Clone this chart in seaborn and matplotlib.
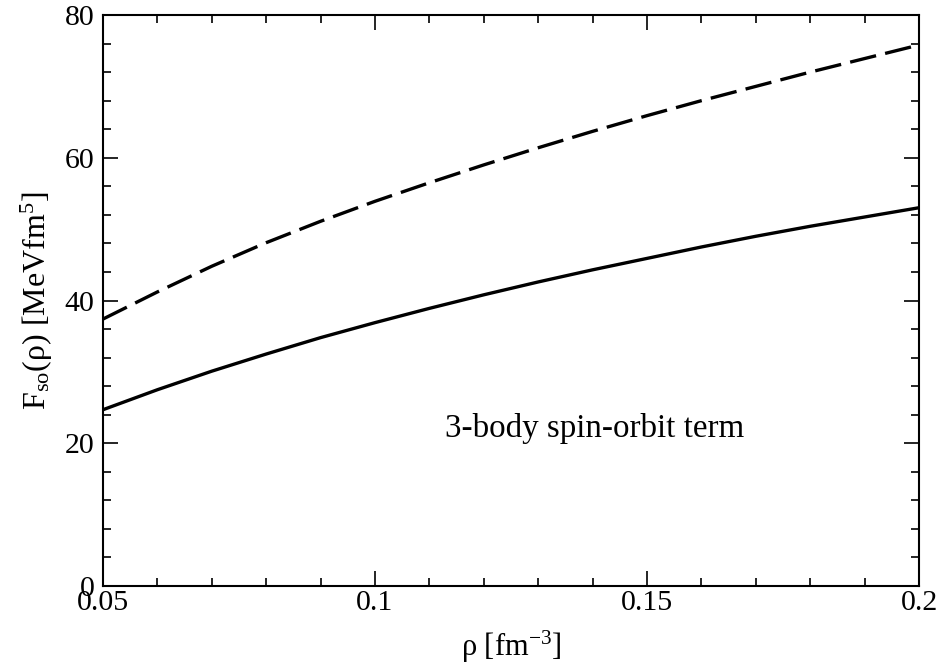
import pandas as pd
import matplotlib.pyplot as plt
from matplotlib.ticker import MultipleLocator
import seaborn as sns

# density values and the two curves
rho = [0.05, 0.06, 0.07, 0.08, 0.09, 0.10, 0.11, 0.12,
       0.13, 0.14, 0.15, 0.16, 0.17, 0.18, 0.19, 0.20]
f_solid = [24.7, 27.5, 30.1, 32.5, 34.8, 36.9, 38.9, 40.8,
           42.6, 44.3, 45.9, 47.5, 49.0, 50.4, 51.7, 53.0]
f_dashed = [37.4, 41.2, 44.8, 48.1, 51.1, 53.9, 56.5, 59.0,
            61.4, 63.7, 65.9, 68.0, 70.0, 72.0, 73.9, 75.8]

df = pd.DataFrame({'rho': rho + rho,
                   'F': f_solid + f_dashed,
                   'curve': ['solid'] * len(rho) + ['dashed'] * len(rho)})

sns.set_style('ticks')
plt.rcParams['font.family'] = ['Liberation Serif', 'DejaVu Serif']
plt.rcParams['mathtext.fontset'] = 'custom'
plt.rcParams['mathtext.rm'] = 'Liberation Serif'
plt.rcParams['mathtext.it'] = 'Liberation Serif:italic'
plt.rcParams['text.color'] = 'black'
plt.rcParams['axes.labelcolor'] = 'black'
plt.rcParams['xtick.color'] = 'black'
plt.rcParams['ytick.color'] = 'black'

fig = plt.figure(figsize=(9.42, 6.67), dpi=100)
ax = fig.add_axes([0.1093, 0.1214, 0.8663, 0.8561])

sns.lineplot(data=df, x='rho', y='F', style='curve', color='black',
             dashes={'solid': '', 'dashed': (8, 2.8)},
             linewidth=2.4, legend=False, ax=ax)

ax.set_xlim(0.05, 0.2)
ax.set_ylim(0, 80)
ax.xaxis.set_major_locator(MultipleLocator(0.05))
ax.xaxis.set_minor_locator(MultipleLocator(0.01))
ax.yaxis.set_major_locator(MultipleLocator(20))
ax.yaxis.set_minor_locator(MultipleLocator(4))
ax.set_xticks([0.05, 0.1, 0.15, 0.2])
ax.set_xticklabels(['0.05', '0.1', '0.15', '0.2'])

ax.tick_params(which='both', direction='in', top=True, right=True,
               labelsize=21.5, width=1.2, color='black', labelcolor='black')
ax.tick_params(which='major', length=11)
ax.tick_params(which='minor', length=6)
ax.tick_params(axis='x', pad=3)
ax.tick_params(axis='y', pad=6)
for s in ax.spines.values():
    s.set_linewidth(1.5)
    s.set_color('black')

ax.set_xlabel(r'ρ [fm$^{-3}$]', fontsize=22, labelpad=9)
ax.set_ylabel(r'F$_{\mathrm{so}}$(ρ) [MeVfm$^{5}$]', fontsize=23, labelpad=7)

ax.text(0.1128, 22, '3-body spin-orbit term', fontsize=23.8,
        ha='left', va='center')

fig.savefig('out.png', dpi=100)
plt.close()
